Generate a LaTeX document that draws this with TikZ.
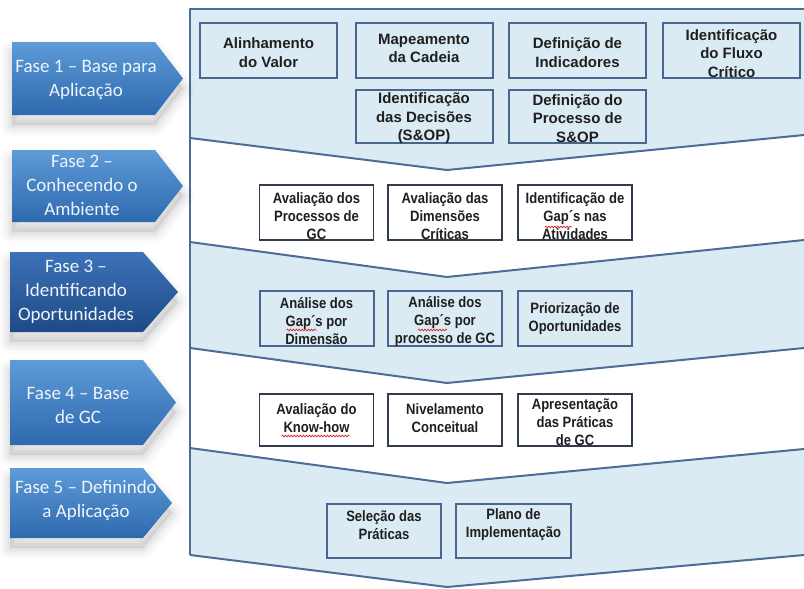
\documentclass[tikz,border=0pt]{standalone}
\usepackage{fontspec}
\setmainfont{Liberation Sans}
\newfontfamily\fasefont{Carlito}
\newfontfamily\narrowfont[FakeStretch=0.87]{Liberation Sans}
\usetikzlibrary{calc,decorations.pathmorphing}

\definecolor{bandblue}{HTML}{DBEBF4}
\definecolor{bandline}{HTML}{4D6C97}
\definecolor{boxline}{HTML}{4A6590}
\definecolor{darkline}{HTML}{303C4E}
\definecolor{arrowtop}{HTML}{5E9BD7}
\definecolor{arrowmid}{HTML}{4383CB}
\definecolor{arrowbot}{HTML}{2E69AE}
\definecolor{seltop}{HTML}{3C72B8}
\definecolor{selmid}{HTML}{2C60A6}
\definecolor{selbot}{HTML}{1E4A86}
\definecolor{fasetextcol}{HTML}{EEF4FB}
\definecolor{spellred}{HTML}{D62828}

% pentagon arrow: x0, ytop, ybot, shoulder x, tip x
\newcommand\arrowcoords[5]{(#1,#2) -- (#4,#2) -- (#5,{(#2+#3)/2}) -- (#4,#3) -- (#1,#3) -- cycle}

% soft shadow under a phase arrow
\newcommand\arrowshadow[5]{%
  \foreach \w/\o in {22/0.02,16/0.025,10/0.03,5/0.035}
    \draw[black, draw opacity=\o, line width=\w pt, line join=round, shift={(0,10)}] \arrowcoords{#1}{#2}{#3}{#4}{#5};
  \fill[black, fill opacity=0.08, shift={(0,10)}] \arrowcoords{#1}{#2}{#3}{#4}{#5};
}

\begin{document}
\begin{tikzpicture}[x=1pt,y=-1pt,
  frameline/.style={draw=bandline, line width=2pt, line join=round},
  bluebox/.style={draw=boxline, line width=2pt, fill=bandblue, inner sep=0pt},
  whitebox/.style={draw=darkline, line width=1.8pt, fill=white, inner sep=0pt},
  boxtext/.style={font=\narrowfont\bfseries\fontsize{15}{18}\selectfont, align=center, text=black!88, inner sep=0pt},
  toptext/.style={boxtext, font=\rmfamily\bfseries\fontsize{15}{18.5}\selectfont},
  fasetext/.style={font=\fasefont\fontsize{19}{24}\selectfont, align=center, text=fasetextcol, inner sep=0pt},
  normalarrow/.style={top color=arrowtop, middle color=arrowmid, bottom color=arrowbot},
  selarrow/.style={top color=seltop, middle color=selmid, bottom color=selbot},
  spell/.style={draw=spellred, line width=0.7pt, decorate, decoration={snake, amplitude=0.9pt, segment length=3pt}}
]
\useasboundingbox (0,0) rectangle (804,589);

% ---------- chevron bands ----------
\fill[bandblue] (190,9) -- (804,9) -- (804,135) -- (447,170) -- (190,138) -- cycle;
\fill[bandblue] (190,242) -- (447,277) -- (804,240) -- (804,348) -- (447,383) -- (190,348) -- cycle;
\fill[bandblue] (190,448) -- (447,483) -- (804,449) -- (804,555) -- (447,587) -- (190,555) -- cycle;

\draw[frameline] (804,9) -- (190,9) -- (190,555);
\foreach \yl/\yp/\yr in {138/170/135, 242/277/240, 348/383/348, 448/483/449, 555/587/555}
  \draw[frameline] (190,\yl) -- (447,\yp) -- (804,\yr);

% ---------- phase arrows ----------
\arrowshadow{12}{42}{115}{155}{183}
\arrowshadow{12}{150}{222}{155}{183}
\arrowshadow{10}{252}{332}{143}{178}
\arrowshadow{10}{360}{445}{143}{176}
\arrowshadow{10}{468}{538}{143}{172}

\shade[normalarrow] \arrowcoords{12}{42}{115}{155}{183};
\shade[normalarrow] \arrowcoords{12}{150}{222}{155}{183};
\shade[selarrow]    \arrowcoords{10}{252}{332}{143}{178};
\shade[normalarrow] \arrowcoords{10}{360}{445}{143}{176};
\shade[normalarrow] \arrowcoords{10}{468}{538}{143}{172};

\node[fasetext] (f1) at (86,80)  {Fase 1 – Base para\\Aplicação};
\node[fasetext] (f2) at (82,185) {Fase 2 –\\Conhecendo o\\Ambiente};
\node[fasetext] (f3) at (76,292) {Fase 3 –\\Identificando\\Oportunidades};
\node[fasetext] (f4) at (78,405) {Fase 4 – Base\\de GC};
\node[fasetext] (f5) at (86,500) {Fase 5 – Definindo\\a Aplicação};

% ---------- phase 1 boxes ----------
\node[bluebox, minimum width=137, minimum height=55] (b11) at (268.5,50.5) {};
\node[bluebox, minimum width=137, minimum height=55] (b12) at (424,50.5) {};
\node[bluebox, minimum width=137, minimum height=55] (b13) at (577.5,50.5) {};
\node[bluebox, minimum width=137, minimum height=55] (b14) at (731.5,50.5) {};
\node[bluebox, minimum width=137, minimum height=53] (b15) at (424,116.5) {};
\node[bluebox, minimum width=137, minimum height=53] (b16) at (577.5,116.5) {};

\node[toptext] (t11) at ($(b11.center)+(0,2)$) {Alinhamento\\do Valor};
\node[toptext] (t12) at ($(b12.center)+(0,-2)$) {Mapeamento\\da Cadeia};
\node[toptext] (t13) at ($(b13.center)+(0,2)$) {Definição de\\Indicadores};
\node[toptext] (t14) at ($(b14.center)+(0,3)$) {Identificação\\do Fluxo\\Crítico};
\node[toptext] (t15) at ($(b15.center)+(0,2)$) {Identificação\\das Decisões\\(S\&OP)};
\node[toptext] (t16) at ($(b16.center)+(0,2)$) {Definição do\\Processo de\\S\&OP};

% ---------- phase 2 boxes ----------
\node[whitebox, minimum width=114, minimum height=55] (b21) at (316.5,212.5) {};
\node[whitebox, minimum width=114, minimum height=55] (b22) at (445,212.5) {};
\node[whitebox, minimum width=114, minimum height=55] (b23) at (575,212.5) {};

\node[boxtext] (t21) at ($(b21.center)+(0,3.5)$) {Avaliação dos\\Processos de\\GC};
\node[boxtext] (t22) at ($(b22.center)+(0,3.5)$) {Avaliação das\\Dimensões\\Críticas};
\node[boxtext] (t23) at ($(b23.center)+(0,3.5)$) {Identificação de\\Gap´s nas\\Atividades};

% ---------- phase 3 boxes ----------
\node[bluebox, minimum width=114, minimum height=55] (b31) at (316.5,318.5) {};
\node[bluebox, minimum width=114, minimum height=55] (b32) at (445,318.5) {};
\node[bluebox, minimum width=114, minimum height=55] (b33) at (575,318.5) {};

\node[boxtext] (t31) at ($(b31.center)+(0,3)$) {Análise dos\\Gap´s por\\Dimensão};
\node[boxtext] (t32) at ($(b32.center)+(0,3)$) {Análise dos\\Gap´s por\\processo de GC};
\node[boxtext] (t33) at ($(b33.center)+(0,0.5)$) {Priorização de\\Oportunidades};

% ---------- phase 4 boxes ----------
\node[whitebox, minimum width=114, minimum height=52] (b41) at (316.5,420) {};
\node[whitebox, minimum width=114, minimum height=52] (b42) at (445,420) {};
\node[whitebox, minimum width=114, minimum height=52] (b43) at (575,420) {};

\node[boxtext] (t41) at ($(b41.center)+(0,-2)$) {Avaliação do\\Know-how};
\node[boxtext] (t42) at ($(b42.center)+(0,-2)$) {Nivelamento\\Conceitual};
\node[boxtext] (t43) at ($(b43.center)+(0,2)$) {Apresentação\\das Práticas\\de GC};

% ---------- phase 5 boxes ----------
\node[bluebox, minimum width=114, minimum height=54] (b51) at (384,531) {};
\node[bluebox, minimum width=115, minimum height=54] (b52) at (513.5,531) {};

\node[boxtext] (t51) at ($(b51.center)+(0,-6)$) {Seleção das\\Práticas};
\node[boxtext] (t52) at ($(b52.center)+(0,-6)$) {Plano de\\Implementação};

% ---------- spell-check marks ----------
\draw[spell] ($(b23.center)+(-30,14.5)$) -- ($(b23.center)+(-3,14.5)$);
\draw[spell] ($(b31.center)+(-30,11.5)$) -- ($(b31.center)+(0,11.5)$);
\draw[spell] ($(b32.center)+(-27,11.5)$) -- ($(b32.center)+(2,11.5)$);
\draw[spell] ($(b41.center)+(-35,16)$) -- ($(b41.center)+(33,16)$);
\end{tikzpicture}
\end{document}
